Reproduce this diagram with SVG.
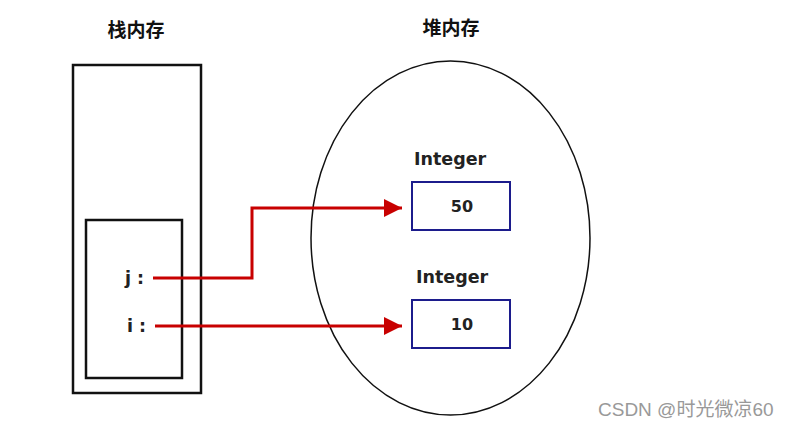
<svg xmlns="http://www.w3.org/2000/svg" width="790" height="427" viewBox="0 0 790 427">
<style>
.title{font-family:"Noto Sans CJK SC",sans-serif;font-size:19px;font-weight:bold;fill:#111}
.lbl{font-family:"DejaVu Sans","Liberation Sans",sans-serif;font-size:17.5px;font-weight:bold;fill:#222}
.val{font-family:"DejaVu Sans","Liberation Sans",sans-serif;font-size:16px;font-weight:bold;fill:#222;text-anchor:middle}
.frame{fill:none;stroke:#111;stroke-width:2.5}
.obj{fill:#fff;stroke:#1c1c8c;stroke-width:2}
.conn{fill:none;stroke:#c80000;stroke-width:3}
.wm{font-family:"Liberation Sans","Noto Sans CJK SC",sans-serif;font-size:19px;fill:#999}
</style>
<defs>
<marker id="ah" viewBox="0 0 10 10" refX="10" refY="5" markerWidth="6" markerHeight="6" markerUnits="strokeWidth" orient="auto">
<path d="M0,0 L10,5 L0,10 Z" fill="#c80000"/>
</marker>
</defs>
<rect width="790" height="427" fill="#fff"/>
<g id="stack">
<text class="title" x="136" y="37" text-anchor="middle">栈内存</text>
<rect class="frame" x="73" y="65" width="128" height="328"/>
<rect class="frame" x="86" y="220" width="96" height="158"/>
<text class="lbl" x="125" y="284">j :</text>
<text class="lbl" x="127" y="332">i :</text>
</g>
<g id="heap">
<text class="title" x="451" y="35" text-anchor="middle">堆内存</text>
<ellipse cx="450.5" cy="238" rx="139.5" ry="177" fill="none" stroke="#111" stroke-width="1.5"/>
</g>
<g id="obj50">
<text class="lbl" x="414" y="165">Integer</text>
<rect class="obj" x="412" y="182" width="98" height="48"/>
<text class="val" x="462" y="212">50</text>
</g>
<g id="obj10">
<text class="lbl" x="416" y="283">Integer</text>
<rect class="obj" x="412" y="300" width="98" height="48"/>
<text class="val" x="462" y="330">10</text>
</g>
<g id="connectors">
<polyline class="conn" points="153,278 252,278 252,208 402,208" marker-end="url(#ah)"/>
<polyline class="conn" points="155,326 402,326" marker-end="url(#ah)"/>
</g>
<text class="wm" x="598" y="416">CSDN @时光微凉60</text>
</svg>
